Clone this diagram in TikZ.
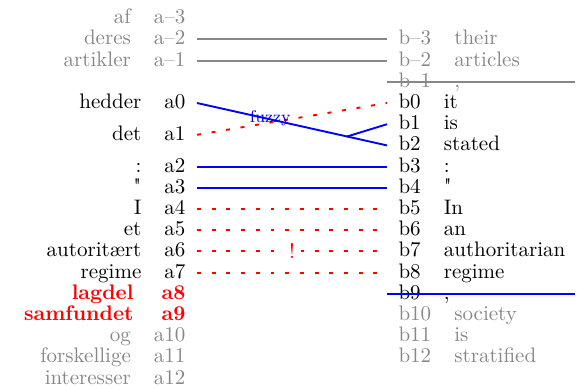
\documentclass[tikz,border=0pt]{standalone}
\usetikzlibrary{calc}
\definecolor{tgray}{gray}{0.53}
\definecolor{tblue}{RGB}{0,0,255}
\definecolor{tred}{RGB}{255,0,0}
\begin{document}
\begin{tikzpicture}[x=0.4762pt,y=-0.4762pt,
  lab/.style={inner xsep=5.3pt, inner ysep=0pt, text height=5.2pt, text depth=0pt},
  alab/.style={lab, anchor=east},
  blab/.style={lab, anchor=west},
  faded/.style={text=tgray},
  hl/.style={text=tred, font=\bfseries},
  sure/.style={draw=tblue, line width=0.9pt},
  poss/.style={draw=tred, line width=0.9pt, dash pattern=on 1.9pt off 5.1pt},
  ext/.style={draw=tgray, line width=0.9pt},
  fuzzylab/.style={text=tblue, font=\footnotesize, inner sep=0pt},
  bang/.style={text=tred, fill=white, inner sep=2.8pt},
]
\useasboundingbox (0,0) rectangle (580,387);

% left labels
\node[alab,faded] (am3) at (197,18.2) {a--3};
\node[alab,faded] (am2) at (197,39.4) {a--2};
\node[alab,faded] (am1) at (197,60.6) {a--1};
\node[alab] (a0) at (197,103) {a0};
\node[alab] (a1) at (197,134.8) {a1};
\node[alab] (a2) at (197,166.6) {a2};
\node[alab] (a3) at (197,187.8) {a3};
\node[alab] (a4) at (197,209) {a4};
\node[alab] (a5) at (197,230.2) {a5};
\node[alab] (a6) at (197,251.4) {a6};
\node[alab] (a7) at (197,272.6) {a7};
\node[alab,hl] (a8) at (197,293.8) {a8};
\node[alab,hl] (a9) at (197,315) {a9};
\node[alab,faded] (a10) at (197,336.2) {a10};
\node[alab,faded] (a11) at (197,357.4) {a11};
\node[alab,faded] (a12) at (197,378.6) {a12};

% left words
\node[alab,faded] (wam3) at (am3.west) {af};
\node[alab,faded] (wam2) at (am2.west) {deres};
\node[alab,faded] (wam1) at (am1.west) {artikler};
\node[alab] (wa0) at (a0.west) {hedder};
\node[alab] (wa1) at (a1.west) {det};
\node[alab] (wa2) at (a2.west) {:};
\node[alab] (wa3) at (a3.west) {\textquotedbl};
\node[alab] (wa4) at (a4.west) {I};
\node[alab] (wa5) at (a5.west) {et};
\node[alab] (wa6) at (a6.west) {autoritært};
\node[alab] (wa7) at (a7.west) {regime};
\node[alab,hl,xshift=-2.4pt] (wa8) at (a8.west) {lagdel};
\node[alab,hl,xshift=-2.4pt] (wa9) at (a9.west) {samfundet};
\node[alab,faded] (wa10) at (a10.west) {og};
\node[alab,faded] (wa11) at (a11.west) {forskellige};
\node[alab,faded] (wa12) at (a12.west) {interesser};

% right labels
\node[blab,faded] (bm3) at (387,39.4) {b--3};
\node[blab,faded] (bm2) at (387,60.6) {b--2};
\node[blab,faded] (bm1) at (387,81.8) {b--1};
\node[blab] (b0) at (387,103) {b0};
\node[blab] (b1) at (387,124.2) {b1};
\node[blab] (b2) at (387,145.4) {b2};
\node[blab] (b3) at (387,166.6) {b3};
\node[blab] (b4) at (387,187.8) {b4};
\node[blab] (b5) at (387,209) {b5};
\node[blab] (b6) at (387,230.2) {b6};
\node[blab] (b7) at (387,251.4) {b7};
\node[blab] (b8) at (387,272.6) {b8};
\node[blab] (b9) at (387,293.8) {b9};
\node[blab,faded] (b10) at (387,315) {b10};
\node[blab,faded] (b11) at (387,336.2) {b11};
\node[blab,faded] (b12) at (387,357.4) {b12};

% right words
\node[blab,faded] (wbm3) at (bm3.east) {their};
\node[blab,faded] (wbm2) at (bm2.east) {articles};
\node[blab,faded] (wbm1) at (bm1.east) {,};
\node[blab] (wb0) at (b0.east) {it};
\node[blab] (wb1) at (b1.east) {is};
\node[blab] (wb2) at (b2.east) {stated};
\node[blab] (wb3) at (b3.east) {:};
\node[blab] (wb4) at (b4.east) {\textquotedbl};
\node[blab] (wb5) at (b5.east) {In};
\node[blab] (wb6) at (b6.east) {an};
\node[blab] (wb7) at (b7.east) {authoritarian};
\node[blab] (wb8) at (b8.east) {regime};
\node[blab] (wb9) at (b9.east) {,};
\node[blab,faded] (wb10) at (b10.east) {society};
\node[blab,faded] (wb11) at (b11.east) {is};
\node[blab,faded] (wb12) at (b12.east) {stratified};

% strike-through ends
\coordinate (strikeA) at (575,81.8);
\coordinate (strikeB) at (575,293.8);

% connectors
\draw[ext] (am2.east) -- (bm3.west);
\draw[ext] (am1.east) -- (bm2.west);
\draw[ext] (bm1.west) -- (strikeA);

\draw[sure] (a0.east) -- (b2.west);
\coordinate (join) at ($(a0.east)!0.79!(b2.west)$);
\draw[sure] (b1.west) -- (join);
\draw[poss] (a1.east) -- (b0.west);
\node[fuzzylab] (fz) at ($(a0.east)!0.385!(b2.west)+(0,-1.5)$) {fuzzy};

\draw[sure] (a2.east) -- (b3.west);
\draw[sure] (a3.east) -- (b4.west);
\draw[poss] (a4.east) -- (b5.west);
\draw[poss] (a5.east) -- (b6.west);
\draw[poss] (a6.east) -- node[bang] (ex) {!} (b7.west);
\draw[poss] (a7.east) -- (b8.west);
\draw[sure] (b9.west) -- (strikeB);
\end{tikzpicture}
\end{document}
